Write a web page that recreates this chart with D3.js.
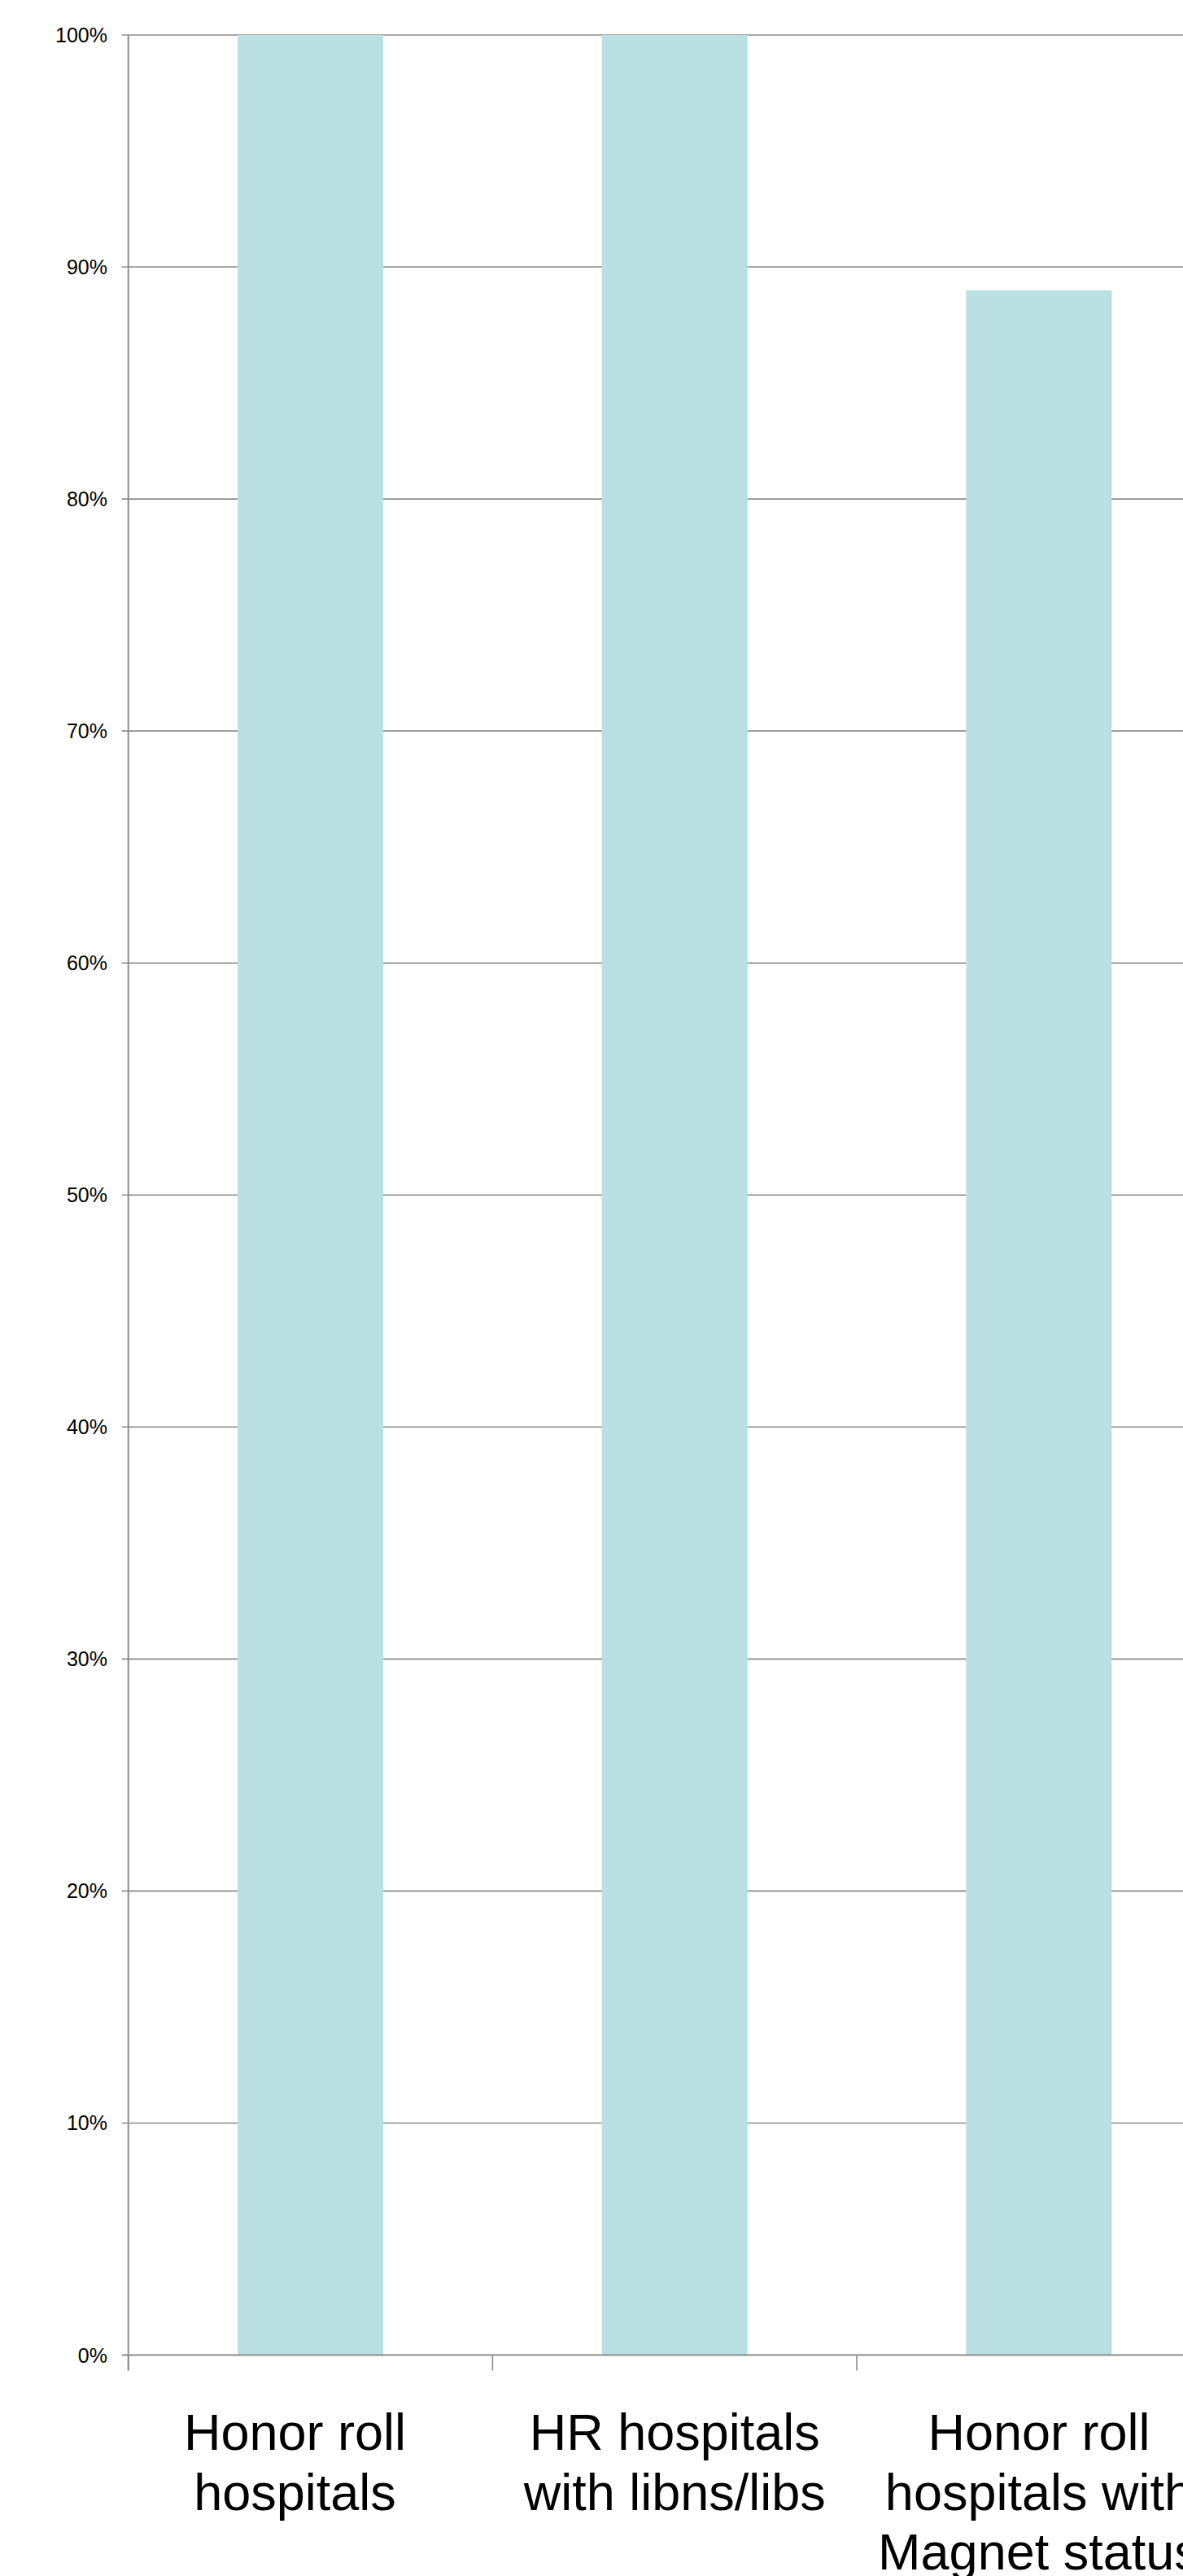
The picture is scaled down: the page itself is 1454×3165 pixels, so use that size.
<!DOCTYPE html>
<html>
<head>
<meta charset="utf-8">
<script src="https://cdn.jsdelivr.net/npm/d3@7"></script>
<style>
  html, body { margin: 0; padding: 0; background: #ffffff; overflow: hidden; }
  svg { display: block; }
  text { font-family: "Liberation Sans", Arial, sans-serif; fill: #000; }
</style>
</head>
<body>
<div id="chart"></div>
<script>
// ---- data ----
const categories = [
  "Honor roll hospitals",
  "HR hospitals with libns/libs",
  "Honor roll hospitals with Magnet status"
];
const categoryLines = [
  ["Honor roll", "hospitals"],
  ["HR hospitals", "with libns/libs"],
  ["Honor roll", "hospitals with", "Magnet status"]
];
const values = [100, 100, 89];
const yTickValues = [0, 10, 20, 30, 40, 50, 60, 70, 80, 90, 100];
const yTickLabels = ["0%", "10%", "20%", "30%", "40%", "50%", "60%", "70%", "80%", "90%", "100%"];

// ---- layout ----
(function () {
const W = 1454, H = 3165;
const plotLeft = 157.7, plotTop = 43, plotBottom = 2893.5;
const step = 447.7;
const labelShift = [-19, 0, 0];

const svg = d3.select("#chart").append("svg")
  .attr("width", W).attr("height", H);

const x = d3.scaleBand()
  .domain(categories)
  .range([plotLeft, plotLeft + step * categories.length])
  .paddingInner(0.6)
  .paddingOuter(0.3);

const y = d3.scaleLinear().domain([0, 100]).range([plotBottom, plotTop]);

const gridColor = "#8c8c8c";

// gridlines + y ticks
svg.append("g").selectAll("line")
  .data(yTickValues.filter(v => v > 0))
  .join("line")
  .attr("x1", plotLeft - 8).attr("x2", W)
  .attr("y1", d => y(d)).attr("y2", d => y(d))
  .attr("stroke", gridColor).attr("stroke-width", 1.6);

// bars
svg.append("g").selectAll("rect")
  .data(values)
  .join("rect")
  .attr("x", (d, i) => x(categories[i]))
  .attr("width", x.bandwidth())
  .attr("y", d => y(d))
  .attr("height", d => y(0) - y(d))
  .attr("fill", "#bae0e3");

// y axis line
svg.append("line")
  .attr("x1", plotLeft).attr("x2", plotLeft)
  .attr("y1", plotTop).attr("y2", plotBottom + 19)
  .attr("stroke", gridColor).attr("stroke-width", 2);

// x axis line
svg.append("line")
  .attr("x1", plotLeft - 8).attr("x2", W)
  .attr("y1", y(0)).attr("y2", y(0))
  .attr("stroke", gridColor).attr("stroke-width", 2.2);

// x ticks at band boundaries
const bounds = d3.range(categories.length + 1).map(i => x.range()[0] + i * x.step());
svg.append("g").selectAll("line")
  .data(bounds)
  .join("line")
  .attr("x1", d => d).attr("x2", d => d)
  .attr("y1", y(0)).attr("y2", y(0) + 19)
  .attr("stroke", gridColor).attr("stroke-width", 1.6);

// y tick labels
svg.append("g").selectAll("text")
  .data(yTickValues)
  .join("text")
  .attr("x", 132)
  .attr("y", d => y(d))
  .attr("dy", "0.36em")
  .attr("text-anchor", "end")
  .style("font-size", "25px")
  .text((d, i) => yTickLabels[i]);

// x category labels
const lab = svg.append("g").selectAll("text")
  .data(categories)
  .join("text")
  .attr("text-anchor", "middle")
  .style("font-size", "63px")
  .attr("x", (d, i) => x(d) + x.bandwidth() / 2 + labelShift[i])
  .attr("y", 3010);
lab.each(function (d, i) {
  d3.select(this).selectAll("tspan")
    .data(categoryLines[i])
    .join("tspan")
    .attr("x", x(d) + x.bandwidth() / 2 + labelShift[i])
    .attr("y", (t, j) => 3010 + j * 73.5)
    .text(t => t);
});
})();
</script>
</body>
</html>
